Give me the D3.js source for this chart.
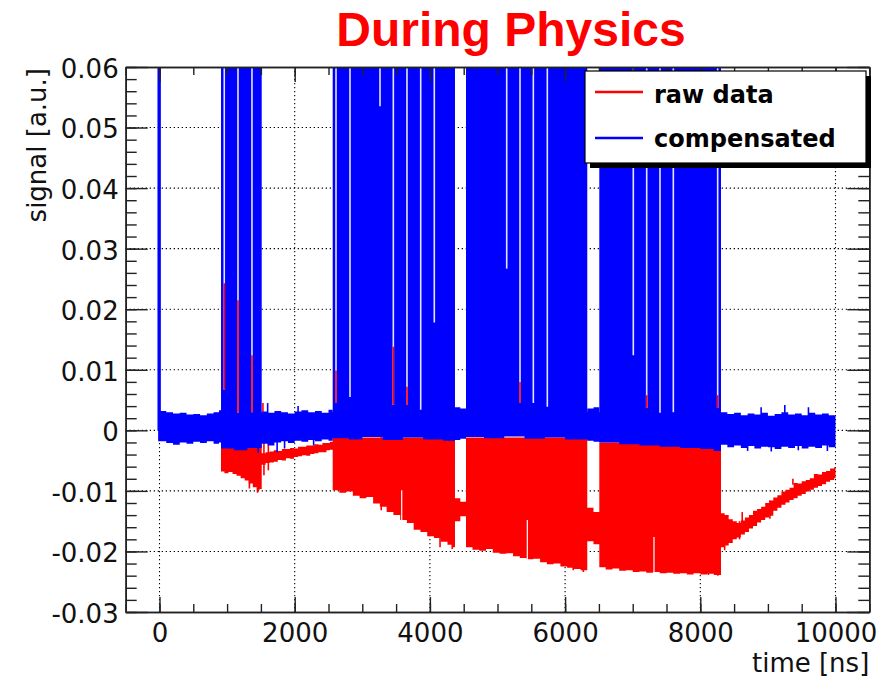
<!DOCTYPE html>
<html><head><meta charset="utf-8">
<script src="https://cdn.jsdelivr.net/npm/d3@7"></script>
<style>body{margin:0;background:#fff}</style>
</head><body>
<svg id="c" width="887" height="677"></svg>
<script>
// ---------- data ----------
const xTickValues = [0, 2000, 4000, 6000, 8000, 10000];
const xTickLabels = ["0", "2000", "4000", "6000", "8000", "10000"];
const yTickValues = [-0.03, -0.02, -0.01, 0, 0.01, 0.02, 0.03, 0.04, 0.05, 0.06];
const yTickLabels = ["-0.03", "-0.02", "-0.01", "0", "0.01", "0.02", "0.03", "0.04", "0.05", "0.06"];
const seriesNames = ["raw data", "compensated"];

// compensated: baseline band envelope [time, upper, lower] (step)
const compensatedBand = [
  [-20,0.0032,-0.0018],[100,0.0030,-0.0021],[200,0.0028,-0.0024],[300,0.0029,-0.0020],[400,0.0026,-0.0022],
  [500,0.0027,-0.0019],[600,0.0025,-0.0021],[700,0.0028,-0.0018],[800,0.0030,-0.0022],[880,0.0033,-0.0020],
  [910,0.0030,-0.0030],[1100,0.0030,-0.0033],[1300,0.0030,-0.0029],
  [1512,0.0031,-0.0022],[1600,0.0029,-0.0025],[1700,0.0032,-0.0020],[1800,0.0030,-0.0018],[1900,0.0028,-0.0021],
  [2000,0.0031,-0.0017],[2100,0.0033,-0.0019],[2200,0.0030,-0.0016],[2300,0.0032,-0.0018],[2400,0.0029,-0.0015],
  [2500,0.0034,-0.0017],
  [2562,0.0030,-0.0013],[2800,0.0030,-0.0015],[3000,0.0030,-0.0011],[3300,0.0030,-0.0016],[3600,0.0030,-0.0012],
  [3900,0.0030,-0.0015],[4200,0.0030,-0.0017],
  [4371,0.0038,-0.0016],[4450,0.0036,-0.0014],
  [4534,0.0030,-0.0011],[4800,0.0030,-0.0013],[5100,0.0030,-0.0010],[5400,0.0030,-0.0014],[5700,0.0030,-0.0012],
  [6000,0.0030,-0.0015],
  [6328,0.0036,-0.0017],[6420,0.0038,-0.0019],
  [6506,0.0030,-0.0020],[6800,0.0030,-0.0023],[7100,0.0030,-0.0025],[7400,0.0030,-0.0027],[7700,0.0030,-0.0029],
  [8000,0.0030,-0.0031],[8200,0.0030,-0.0034],
  [8306,0.0030,-0.0024],[8400,0.0027,-0.0028],[8500,0.0029,-0.0025],[8600,0.0025,-0.0029],[8700,0.0028,-0.0026],
  [8800,0.0026,-0.0030],[8900,0.0029,-0.0027],[9000,0.0024,-0.0028],[9100,0.0027,-0.0031],[9200,0.0030,-0.0027],
  [9300,0.0026,-0.0029],[9400,0.0028,-0.0026],[9500,0.0025,-0.0030],[9600,0.0029,-0.0027],[9700,0.0026,-0.0029],
  [9800,0.0028,-0.0025],[9900,0.0025,-0.0028],[10000,0.0027,-0.0027]
];
// compensated: saturated bursts (beyond top of axis)
const blueBurstStart = [-30, 910, 2562, 4534, 6506];
const blueBurstEnd   = [20, 1512, 4371, 6328, 8306];
// compensated: isolated dips / spikes
const blueDipT  = [1460, 1740, 1850, 2280, 8700, 9050, 9450, 9880];
const blueDipLo = [-0.0037, -0.0036, -0.0030, -0.0025, -0.0034, -0.0035, -0.0033, -0.0034];
const blueUpT   = [1600, 2050, 8900, 9250, 9600];
const blueUpHi  = [0.0045, 0.0040, 0.0038, 0.0042, 0.0038];
// gaps between pulses inside bursts: compensated top and raw top at that sample
const gapT        = [958, 1161, 1368, 2611, 2818, 3262, 3459, 3661, 3864, 4065, 5136, 5333, 5530, 5737, 7009, 7207, 7404, 7601, 8257];
const gapBlueTop  = [0.0067, 0.0029, 0.0030, 0.0045, 0.0055, 0.0535, 0.0042, 0.0042, 0.0034, 0.0178, 0.0267, 0.0045, 0.0045, 0.0039, 0.0124, 0.0037, 0.0029, 0.0030, 0.0037];
const gapRedTop   = [0.0243, 0.0215, 0.0124, 0.0099, null, null, 0.0138, 0.0072, null, null, null, 0.0080, null, null, null, 0.0058, null, null, 0.0058];

// raw data envelope [time, upper, lower] (step)
const rawBand = [
  [-10,0.0010,-0.0010],
  [910,-0.0010,-0.0068],[960,-0.0010,-0.0071],[1020,-0.0010,-0.0069],[1080,-0.0010,-0.0072],[1140,-0.0010,-0.0075],
  [1200,-0.0010,-0.0079],[1260,-0.0010,-0.0083],[1320,-0.0010,-0.0088],[1380,-0.0010,-0.0094],[1440,-0.0010,-0.0099],
  [1480,-0.0010,-0.0097],
  [1512,-0.0038,-0.0057],[1570,-0.0036,-0.0054],[1630,-0.0035,-0.0053],[1690,-0.0033,-0.0052],[1750,-0.0034,-0.0049],
  [1810,-0.0031,-0.0050],[1870,-0.0031,-0.0046],[1930,-0.0029,-0.0047],[1990,-0.0030,-0.0044],[2050,-0.0027,-0.0043],
  [2110,-0.0027,-0.0041],[2170,-0.0025,-0.0042],[2230,-0.0025,-0.0039],[2290,-0.0023,-0.0038],[2350,-0.0024,-0.0036],
  [2410,-0.0021,-0.0036],[2470,-0.0021,-0.0033],[2520,-0.0019,-0.0032],
  [2562,-0.0012,-0.0099],[2660,-0.0012,-0.0103],[2760,-0.0012,-0.0101],[2860,-0.0012,-0.0108],[2960,-0.0012,-0.0112],
  [3060,-0.0012,-0.0110],[3160,-0.0012,-0.0121],[3260,-0.0012,-0.0126],[3360,-0.0012,-0.0135],[3460,-0.0012,-0.0140],
  [3560,-0.0012,-0.0148],[3660,-0.0012,-0.0153],[3760,-0.0012,-0.0164],[3860,-0.0012,-0.0168],[3960,-0.0012,-0.0175],
  [4060,-0.0012,-0.0178],[4160,-0.0012,-0.0184],[4260,-0.0012,-0.0189],[4330,-0.0012,-0.0193],
  [4371,-0.0112,-0.0150],[4450,-0.0118,-0.0142],
  [4534,-0.0012,-0.0193],[4630,-0.0012,-0.0197],[4730,-0.0012,-0.0199],[4830,-0.0012,-0.0196],[4930,-0.0012,-0.0202],
  [5030,-0.0012,-0.0204],[5130,-0.0012,-0.0203],[5230,-0.0012,-0.0208],[5330,-0.0012,-0.0211],[5430,-0.0012,-0.0213],
  [5530,-0.0012,-0.0212],[5630,-0.0012,-0.0218],[5730,-0.0012,-0.0221],[5830,-0.0012,-0.0220],[5930,-0.0012,-0.0225],
  [6030,-0.0012,-0.0227],[6130,-0.0012,-0.0229],[6230,-0.0012,-0.0231],
  [6328,-0.0128,-0.0183],[6420,-0.0135,-0.0188],
  [6506,-0.0020,-0.0226],[6600,-0.0020,-0.0230],[6700,-0.0020,-0.0228],[6800,-0.0020,-0.0232],[6900,-0.0020,-0.0231],
  [7000,-0.0020,-0.0234],[7100,-0.0020,-0.0233],[7200,-0.0020,-0.0235],[7300,-0.0020,-0.0234],[7400,-0.0020,-0.0236],
  [7500,-0.0020,-0.0235],[7600,-0.0020,-0.0237],[7700,-0.0020,-0.0236],[7800,-0.0020,-0.0238],[7900,-0.0020,-0.0236],
  [8000,-0.0020,-0.0238],[8100,-0.0020,-0.0237],[8200,-0.0020,-0.0239],
  [8306,-0.0137,-0.0193],[8360,-0.0140,-0.0190],[8420,-0.0147,-0.0186],[8480,-0.0150,-0.0180],[8540,-0.0153,-0.0177],
  [8600,-0.0149,-0.0172],[8660,-0.0144,-0.0168],[8720,-0.0140,-0.0162],[8780,-0.0133,-0.0158],[8840,-0.0130,-0.0152],
  [8900,-0.0126,-0.0148],[8960,-0.0120,-0.0144],[9020,-0.0116,-0.0141],[9080,-0.0111,-0.0133],[9140,-0.0107,-0.0128],
  [9200,-0.0101,-0.0123],[9260,-0.0098,-0.0119],[9320,-0.0095,-0.0115],[9380,-0.0087,-0.0112],[9440,-0.0088,-0.0108],
  [9500,-0.0084,-0.0105],[9560,-0.0082,-0.0101],[9620,-0.0079,-0.0098],[9680,-0.0072,-0.0095],[9740,-0.0073,-0.0092],
  [9800,-0.0069,-0.0089],[9860,-0.0067,-0.0085],[9920,-0.0063,-0.0082],[9980,-0.0061,-0.0079],[10000,-0.0060,-0.0077]
];
// raw data: isolated dips [from, to], upward spikes [from, to], short samples
const redDipT    = [1330, 1450, 1545, 1610, 3280, 4150, 4330, 6120, 6270, 8120, 8260, 8360, 8580, 9030];
const redDipFrom = [0, 0, 0, 0, 0, 0, 0, 0, 0, 0, 0, -0.0140, -0.0150, -0.0116];
const redDipLo   = [-0.0096, -0.0103, -0.0074, -0.0066, -0.0132, -0.0193, -0.0196, -0.0231, -0.0234, -0.0239, -0.0240, -0.0198, -0.0180, -0.0146];
const redUpT     = [1530, 8620, 9370];
const redUpFrom  = [0, -0.0150, -0.0090];
const redUpHi    = [0.0045, -0.0135, -0.0080];
const redShortT  = [3583, 5441, 7315];
const redShortLo = [-0.0099, -0.0148, -0.0176];

// ---------- chart ----------
const M = {left: 125.7, right: 869.3, top: 67, bottom: 612};
const svg = d3.select("#c");
const x = d3.scaleLinear().domain([-500, 10500]).range([M.left, M.right]);
const y = d3.scaleLinear().domain([-0.03, 0.06]).range([M.bottom, M.top]);
const RED = "#ff0000", BLUE = "#0000ff";

svg.append("defs").append("clipPath").attr("id", "clip")
  .append("rect").attr("x", M.left).attr("y", M.top)
  .attr("width", M.right - M.left).attr("height", M.bottom - M.top);

// grid
const grid = svg.append("g").attr("stroke", "#000").attr("stroke-width", 1.1).attr("stroke-dasharray", "1.3,2.7");
grid.selectAll("line.gx").data(xTickValues).join("line")
  .attr("x1", d => x(d)).attr("x2", d => x(d)).attr("y1", M.top).attr("y2", M.bottom);
grid.selectAll("line.gy").data(yTickValues.filter(v => v > -0.03 && v < 0.06)).join("line")
  .attr("x1", M.left).attr("x2", M.right).attr("y1", d => y(d)).attr("y2", d => y(d));

const plot = svg.append("g").attr("clip-path", "url(#clip)");
const band = d3.area().x(d => x(d[0])).y0(d => y(d[2])).y1(d => y(d[1])).curve(d3.curveStepAfter);

function vlines(g, ts, from, to, color, w) {
  g.append("g").selectAll("line").data(ts.map((t, i) => ({t, a: from(i), b: to(i)}))).join("line")
    .attr("x1", d => x(d.t)).attr("x2", d => x(d.t)).attr("y1", d => y(d.a)).attr("y2", d => y(d.b))
    .attr("stroke", color).attr("stroke-width", w);
}

// raw data
plot.append("path").datum(rawBand).attr("fill", RED).attr("d", band);
vlines(plot, redDipT, i => redDipFrom[i], i => redDipLo[i], RED, 1.6);
vlines(plot, redUpT, i => redUpFrom[i], i => redUpHi[i], RED, 1.6);
vlines(plot, redShortT, i => redShortLo[i], () => -0.0245, "#fff", 1.2);

// compensated
plot.append("path").datum(compensatedBand).attr("fill", BLUE).attr("d", band);
plot.append("g").selectAll("rect").data(blueBurstStart.map((s, i) => ({s, e: blueBurstEnd[i]}))).join("rect")
  .attr("x", d => x(d.s)).attr("width", d => x(d.e) - x(d.s))
  .attr("y", y(0.065)).attr("height", y(0) - y(0.065))
  .attr("fill", BLUE);
vlines(plot, blueDipT, () => 0, i => blueDipLo[i], BLUE, 1.6);
vlines(plot, blueUpT, () => 0, i => blueUpHi[i], BLUE, 1.6);

// gaps between pulses
vlines(plot, gapT, () => 0.065, i => gapBlueTop[i], "#e4e4ff", 1.6);
const redGapIdx = gapT.map((t, i) => i).filter(i => gapRedTop[i] !== null);
vlines(plot, redGapIdx.map(i => gapT[i]), k => gapBlueTop[redGapIdx[k]], k => gapRedTop[redGapIdx[k]], RED, 1.6);

// axes / frame
const FRAME = "#222";
const fmtX = (d, i) => xTickLabels[i];
const fmtY = (d, i) => yTickLabels[i];
const xMinor = d3.range(-500, 10501, 500);
const yMinor = d3.range(-30, 61, 2).map(v => v / 1000);

function styleAxis(g) {
  g.selectAll("path.domain").attr("stroke", FRAME).attr("stroke-width", 1.6);
  g.selectAll(".tick line").attr("stroke", FRAME).attr("stroke-width", 1.4);
}
const axB = svg.append("g").attr("transform", `translate(0,${M.bottom})`)
  .call(d3.axisBottom(x).tickValues(xTickValues).tickFormat(fmtX).tickSize(-15).tickSizeOuter(0).tickPadding(12));
const axBm = svg.append("g").attr("transform", `translate(0,${M.bottom})`)
  .call(d3.axisBottom(x).tickValues(xMinor).tickFormat("").tickSize(-8).tickSizeOuter(0));
const axT = svg.append("g").attr("transform", `translate(0,${M.top})`)
  .call(d3.axisTop(x).tickValues(xTickValues).tickFormat("").tickSize(-15).tickSizeOuter(0));
const axTm = svg.append("g").attr("transform", `translate(0,${M.top})`)
  .call(d3.axisTop(x).tickValues(xMinor).tickFormat("").tickSize(-8).tickSizeOuter(0));
const axL = svg.append("g").attr("transform", `translate(${M.left},0)`)
  .call(d3.axisLeft(y).tickValues(yTickValues).tickFormat(fmtY).tickSize(-22).tickSizeOuter(0).tickPadding(7));
const axLm = svg.append("g").attr("transform", `translate(${M.left},0)`)
  .call(d3.axisLeft(y).tickValues(yMinor).tickFormat("").tickSize(-11).tickSizeOuter(0));
const axR = svg.append("g").attr("transform", `translate(${M.right},0)`)
  .call(d3.axisRight(y).tickValues(yTickValues).tickFormat("").tickSize(-22).tickSizeOuter(0));
const axRm = svg.append("g").attr("transform", `translate(${M.right},0)`)
  .call(d3.axisRight(y).tickValues(yMinor).tickFormat("").tickSize(-11).tickSizeOuter(0));
[axB, axBm, axT, axTm, axL, axLm, axR, axRm].forEach(styleAxis);

[axB, axL].forEach(g => g.selectAll("text")
  .attr("font-family", "'DejaVu Sans', sans-serif").attr("font-size", 26).attr("fill", "#111"));
axB.selectAll("text").attr("dy", "0.71em");
axL.selectAll("text").attr("dy", "0.40em");

// axis titles
svg.append("text").attr("x", M.right).attr("y", 672).attr("text-anchor", "end")
  .attr("font-family", "'DejaVu Sans', sans-serif").attr("font-size", 26).attr("fill", "#111")
  .text("time [ns]");
svg.append("text").attr("transform", `translate(46,${M.top + 1}) rotate(-90)`).attr("text-anchor", "end")
  .attr("font-family", "'DejaVu Sans', sans-serif").attr("font-size", 26).attr("fill", "#111")
  .text("signal [a.u.]");

// title
svg.append("text").attr("x", 511).attr("y", 46).attr("text-anchor", "middle")
  .attr("font-family", "'Liberation Sans', Arial, sans-serif").attr("font-weight", "bold")
  .attr("font-size", 48).attr("fill", RED).text("During Physics");

// legend
const lg = svg.append("g");
lg.append("rect").attr("x", 590).attr("y", 76).attr("width", 281).attr("height", 92).attr("fill", "#000");
lg.append("rect").attr("x", 585).attr("y", 71).attr("width", 281).attr("height", 92)
  .attr("fill", "#fff").attr("stroke", "#000").attr("stroke-width", 1.2);
const legColors = [RED, BLUE];
const legY = [92, 138];
const legBase = [103, 147];
seriesNames.forEach((name, i) => {
  lg.append("line").attr("x1", 595).attr("x2", 643).attr("y1", legY[i]).attr("y2", legY[i])
    .attr("stroke", legColors[i]).attr("stroke-width", 2.6);
  lg.append("text").attr("x", 654).attr("y", legBase[i])
    .attr("font-family", "'DejaVu Sans', sans-serif").attr("font-weight", "bold")
    .attr("font-size", 24).attr("fill", "#000").text(name);
});
</script>
</body></html>
